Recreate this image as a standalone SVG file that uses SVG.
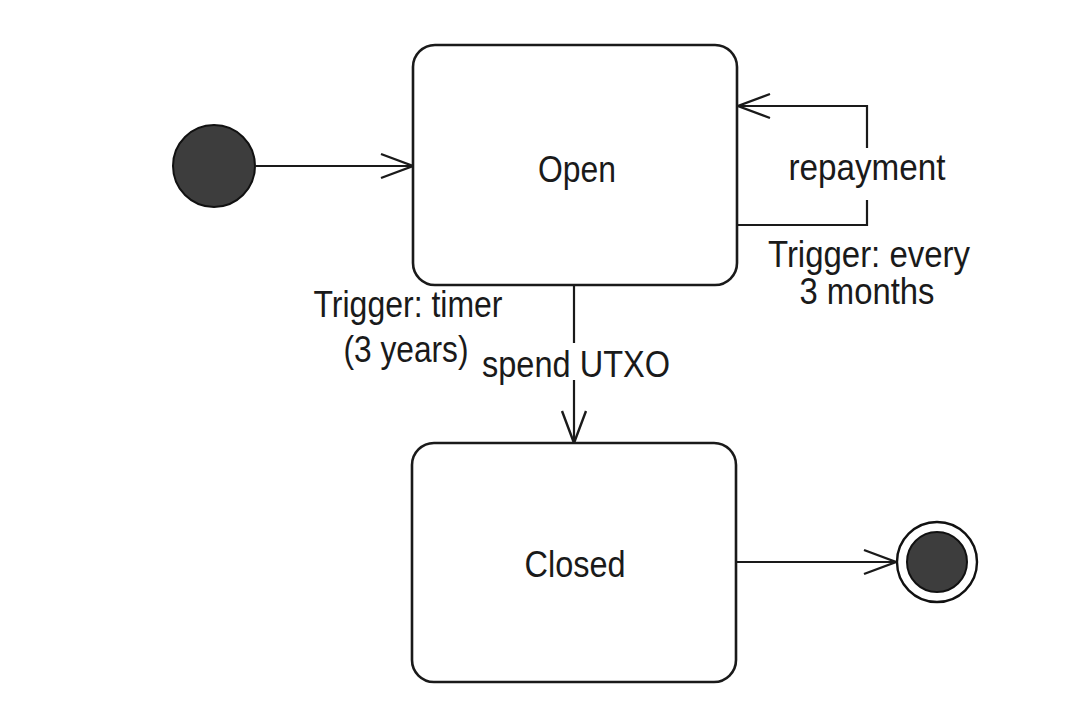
<svg xmlns="http://www.w3.org/2000/svg" width="1080" height="716" viewBox="0 0 1080 716">
<style>
.state{fill:#fff;stroke:#1a1a1a;stroke-width:2.6}
.lbl{font-family:"Liberation Sans",Arial,sans-serif;font-size:37px;fill:#1a1a1a;text-anchor:middle}
.edge{fill:none;stroke:#1a1a1a;stroke-width:2.2}
.dot{fill:#3d3d3d;stroke:#111;stroke-width:2}
</style>
<defs>
<marker id="open" markerUnits="userSpaceOnUse" markerWidth="40" markerHeight="30" refX="34" refY="14" orient="auto">
<path d="M2,2 L34,14 L2,26" fill="none" stroke="#1a1a1a" stroke-width="2.4"/>
</marker>
</defs>
<rect width="1080" height="716" fill="#fff"/>
<g id="connectors">
<line class="edge" x1="256" y1="166" x2="413" y2="166" marker-end="url(#open)"/>
<polyline class="edge" points="867,148 867,106 738,106" marker-end="url(#open)"/>
<polyline class="edge" points="737,225 867,225 867,200"/>
<line class="edge" x1="574" y1="285" x2="574" y2="343"/>
<line class="edge" x1="574" y1="380" x2="574" y2="443" marker-end="url(#open)"/>
<line class="edge" x1="736" y1="562" x2="896" y2="562" marker-end="url(#open)"/>
<text class="lbl" x="867" y="180" textLength="157" lengthAdjust="spacingAndGlyphs">repayment</text>
<text class="lbl" x="869" y="267" textLength="202" lengthAdjust="spacingAndGlyphs">Trigger: every</text>
<text class="lbl" x="867" y="304" textLength="135" lengthAdjust="spacingAndGlyphs">3 months</text>
<text class="lbl" x="408" y="317" textLength="189" lengthAdjust="spacingAndGlyphs">Trigger: timer</text>
<text class="lbl" x="406" y="362" textLength="125" lengthAdjust="spacingAndGlyphs">(3 years)</text>
<text class="lbl" x="576" y="377" textLength="188" lengthAdjust="spacingAndGlyphs">spend UTXO</text>
</g>
<g id="initial">
<circle class="dot" cx="214" cy="166" r="41"/>
</g>
<g id="open-state">
<rect class="state" x="413" y="45" width="324" height="240" rx="22" ry="22"/>
<text class="lbl" x="577" y="182" textLength="78" lengthAdjust="spacingAndGlyphs">Open</text>
</g>
<g id="closed-state">
<rect class="state" x="412" y="443" width="324" height="239" rx="22" ry="22"/>
<text class="lbl" x="575" y="577" textLength="101" lengthAdjust="spacingAndGlyphs">Closed</text>
</g>
<g id="final">
<circle cx="937" cy="562" r="40" fill="#fff" stroke="#111" stroke-width="2.4"/>
<circle class="dot" cx="937" cy="562" r="30"/>
</g>
</svg>
